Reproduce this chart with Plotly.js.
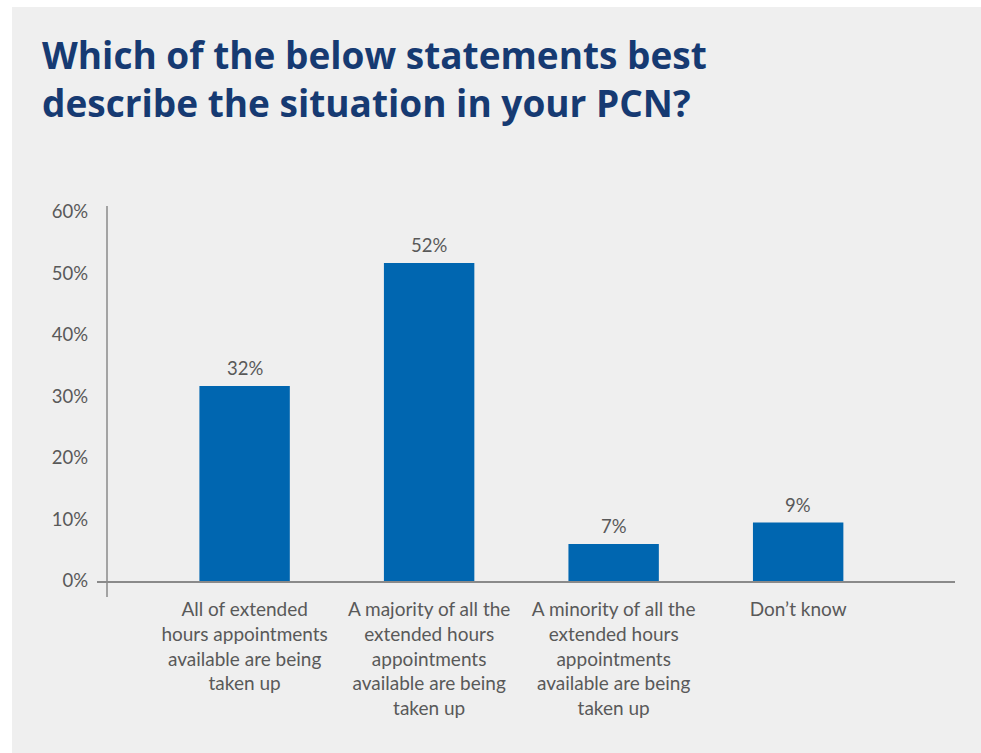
<!DOCTYPE html>
<html>
<head>
<meta charset="utf-8">
<script src="https://cdn.plot.ly/plotly-3.0.1.min.js"></script>
<style>
html,body{margin:0;padding:0;background:#ffffff;width:981px;height:753px;overflow:hidden;}
#chart{position:absolute;left:12px;top:7px;width:969px;height:746px;}
</style>
</head>
<body>
<div id="chart"></div>
<script>
const categories = [
  "All of extended<br>hours appointments<br>available are being<br>taken up",
  "A majority of all the<br>extended hours<br>appointments<br>available are being<br>taken up",
  "A minority of all the<br>extended hours<br>appointments<br>available are being<br>taken up",
  "Don\u2019t know"
];
const values = [31.7, 51.7, 6.0, 9.5];
const valueLabels = ["32%", "52%", "7%", "9%"];
const yTickVals = [0, 10, 20, 30, 40, 50, 60];
const yTickText = ["0%", "10%", "20%", "30%", "40%", "50%", "60%"];

const textColor = "#595959";
const font = "Lato, 'Open Sans', sans-serif";

const trace = {
  type: "bar",
  x: categories,
  y: values,
  marker: {color: "#0066b0"},
  width: 0.49,
  hoverinfo: "skip"
};

const annotations = categories.map((c, i) => ({
  x: c, y: values[i], xref: "x", yref: "y",
  text: valueLabels[i], showarrow: false,
  yanchor: "bottom", yshift: 5,
  font: {family: font, size: 18.5, color: textColor}
}));

const layout = {
  width: 969, height: 746,
  paper_bgcolor: "#efefef",
  plot_bgcolor: "#efefef",
  margin: {l: 85, r: 26, t: 205, b: 172},
  showlegend: false,
  title: {
    text: "<b>Which of the below statements best<br>describe the situation in your PCN?</b>",
    x: 30/969, xref: "container", xanchor: "left",
    y: 1 - 62/746, yref: "container", yanchor: "top",
    font: {family: "'Open Sans', sans-serif", size: 37, color: "#163a72"}
  },
  xaxis: {
    type: "category",
    range: [-0.8, 3.85],
    showline: true, linecolor: "#8a8a8a", linewidth: 1.5,
    ticks: "", showgrid: false, zeroline: false,
    tickfont: {family: font, size: 19, color: textColor},
    ticklabelstandoff: 11,
    fixedrange: true
  },
  yaxis: {
    range: [0, 60],
    tickvals: yTickVals, ticktext: yTickText,
    showline: false, showgrid: false, zeroline: false,
    ticks: "",
    tickfont: {family: font, size: 18.5, color: textColor},
    ticklabelstandoff: 8,
    fixedrange: true
  },
  shapes: [{
    type: "line", xref: "paper", yref: "paper",
    x0: 10/858, x1: 10/858, y0: -16/369, y1: 1 + 6/369,
    line: {color: "#8a8a8a", width: 1.5}
  }],
  annotations: annotations,
  bargap: 0.5
};

Plotly.newPlot("chart", [trace], layout, {displayModeBar: false, staticPlot: true});
</script>
</body>
</html>
